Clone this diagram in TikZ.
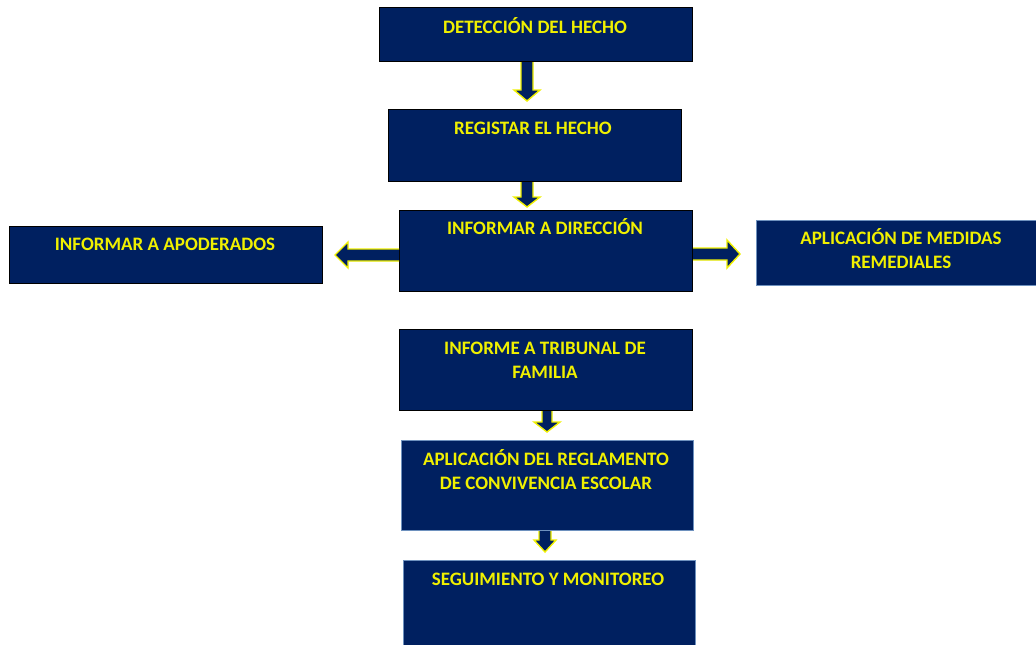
\documentclass[tikz,border=0pt]{standalone}
\usepackage{fontspec}
\setmainfont{Carlito}
\usetikzlibrary{calc}
\definecolor{navy}{RGB}{0,32,96}
\definecolor{yel}{RGB}{240,240,0}
\definecolor{edgeblue}{RGB}{110,145,190}
\tikzset{
  box/.style={rectangle, draw=black, line width=1pt, fill=navy, inner sep=0pt, anchor=north west},
  lbox/.style={box, draw=edgeblue},
  lbl/.style={text=yel, font=\bfseries\fontsize{19}{23.5}\selectfont, align=center, anchor=base, inner sep=0pt},
  blk/.style={fill=navy, draw=yel, line width=1.4pt, line join=miter}
}
% #1 from, #2 to, #3 x, #4 gap, #5 shaft half, #6 head half, #7 head length
\newcommand\blkv[7]{%
  \path[blk] let \p1=(#1.south), \p2=(#2.north) in
    (#3-#5,\y1) -- (#3-#5,\y2+#4+#7) -- (#3-#6,\y2+#4+#7) -- (#3,\y2+#4)
    -- (#3+#6,\y2+#4+#7) -- (#3+#5,\y2+#4+#7) -- (#3+#5,\y1);}
% #1 from, #2 to, #3 y, #4 gap, #5 shaft half, #6 head half, #7 head length
\newcommand\blkl[7]{%
  \path[blk] let \p1=(#1.west), \p2=(#2.east) in
    (\x1,#3-#5) -- (\x2+#4+#7,#3-#5) -- (\x2+#4+#7,#3-#6) -- (\x2+#4,#3)
    -- (\x2+#4+#7,#3+#6) -- (\x2+#4+#7,#3+#5) -- (\x1,#3+#5);}
\newcommand\blkr[7]{%
  \path[blk] let \p1=(#1.east), \p2=(#2.west) in
    (\x1,#3-#5) -- (\x2-#4-#7,#3-#5) -- (\x2-#4-#7,#3-#6) -- (\x2-#4,#3)
    -- (\x2-#4-#7,#3+#6) -- (\x2-#4-#7,#3+#5) -- (\x1,#3+#5);}
\begin{document}
\begin{tikzpicture}[x=1pt,y=-1pt]
\useasboundingbox (0,0) rectangle (1036,645);
\clip (0,0) rectangle (1036,645);
% boxes
\node[box, minimum width=313, minimum height=54] (b1) at (379,7) {};
\node[box, minimum width=293, minimum height=72] (b2) at (388,109) {};
\node[box, minimum width=293, minimum height=81] (b3) at (399,210) {};
\node[box, minimum width=313, minimum height=57] (b4) at (9,226) {};
\node[lbox, minimum width=290, minimum height=65] (b5) at (756,220) {};
\node[box, minimum width=293, minimum height=81] (b6) at (399,329) {};
\node[lbox, minimum width=292, minimum height=90] (b7) at (401,440) {};
\node[lbox, minimum width=292, minimum height=100] (b8) at (403,560) {};
% labels (base anchor = baseline of the last line)
\node[lbl] (t1) at (535,33) {DETECCIÓN DEL HECHO};
\node[lbl] (t2) at (533,134) {REGISTAR EL HECHO};
\node[lbl] (t3) at (545,234) {INFORMAR A DIRECCIÓN};
\node[lbl] (t4) at (165,250) {INFORMAR A APODERADOS};
\node[lbl] (t5) at (901,268) {APLICACIÓN DE MEDIDAS\\REMEDIALES};
\node[lbl] (t6) at (545,378) {INFORME A TRIBUNAL DE\\FAMILIA};
\node[lbl] (t7) at (546,489) {APLICACIÓN DEL REGLAMENTO\\DE CONVIVENCIA ESCOLAR};
\node[lbl] (t8) at (548,585) {SEGUIMIENTO Y MONITOREO};
% block arrows
\blkv{b1}{b2}{527}{8}{6}{13}{11}
\blkv{b2}{b3}{527}{3}{6}{13}{10}
\blkl{b3}{b4}{255}{12}{6}{13}{13}
\blkr{b3}{b5}{254}{16}{6}{14}{13}
\blkv{b6}{b7}{547}{8}{5}{13}{10}
\blkv{b7}{b8}{545}{8}{6}{11}{12}
\end{tikzpicture}
\end{document}
